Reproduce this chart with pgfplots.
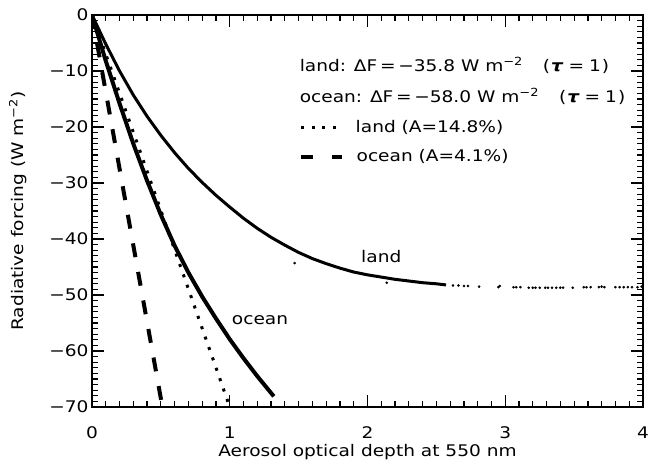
\documentclass[border=0pt]{standalone}
\usepackage{fontspec}
\setmainfont{DejaVu Sans}[FakeStretch=1.16]
\usepackage{pgfplots}
\pgfplotsset{compat=1.18}
\begin{document}
\begin{tikzpicture}[font=\fontsize{16}{19}\selectfont]
\begin{axis}[
  at={(0,0)}, anchor=south west,
  scale only axis, width=551pt, height=392pt,
  xmin=0, xmax=4, ymin=-70, ymax=0,
  xtick={0,1,2,3,4}, xticklabels={0,1,2,3,4},
  ytick={-70,-60,...,0}, yticklabels={−70,−60,−50,−40,−30,−20,−10,0},
  minor x tick num=9, minor y tick num=9,
  xtick pos=both, ytick pos=both,
  tick align=inside,
  major tick length=12pt, minor tick length=6pt,
  tick style={draw=black, line width=1.2pt},
  axis line style={line width=1.5pt},
  tick label style={font=\fontsize{16}{19}\selectfont},
  xticklabel style={yshift=-16pt},
  label style={font=\fontsize{16}{19}\selectfont},
  xlabel={Aerosol optical depth at 550 nm},
  ylabel={Radiative forcing (W m\textsuperscript{−2})},
  every axis x label/.style={at={([yshift=-45pt]axis description cs:0.5,0)}, anchor=center},
  every axis y label/.style={at={([xshift=-74pt]axis description cs:0,0.5)}, anchor=center, rotate=90},
]
% land (solid)
\addplot[black, line width=3pt, line join=round] coordinates {
(0,0) (0.1,-5.2) (0.2,-10.0) (0.3,-14.3) (0.4,-18.1) (0.5,-21.5) (0.6,-24.6)
(0.7,-27.4) (0.8,-29.9) (0.9,-32.2) (1.0,-34.3) (1.1,-36.3) (1.2,-38.1)
(1.3,-39.7) (1.4,-41.1) (1.5,-42.4) (1.6,-43.5) (1.7,-44.4) (1.8,-45.2)
(1.9,-45.9) (2.0,-46.4) (2.1,-46.8) (2.2,-47.2) (2.3,-47.5) (2.4,-47.8)
(2.5,-48.0) (2.57,-48.2)
};
\addplot[black, only marks, mark=*, mark size=1.1pt] coordinates {
(1.471,-44.3) (2.14,-47.8) (2.62,-48.3) (2.66,-48.3) (2.70,-48.4) (2.73,-48.4)
(2.81,-48.5) (2.95,-48.6) (2.96,-48.4) (3.06,-48.6) (3.08,-48.6) (3.11,-48.6)
(3.17,-48.7) (3.20,-48.7) (3.22,-48.7) (3.25,-48.7) (3.29,-48.7) (3.31,-48.7)
(3.34,-48.7) (3.37,-48.7) (3.40,-48.7) (3.42,-48.7) (3.49,-48.7) (3.57,-48.6)
(3.59,-48.6) (3.62,-48.6) (3.68,-48.6) (3.70,-48.5) (3.72,-48.6) (3.80,-48.6)
(3.83,-48.6) (3.86,-48.6) (3.89,-48.6) (3.92,-48.6) (3.96,-48.6) (3.99,-48.5)
};
% ocean (solid)
\addplot[black, line width=4pt, line join=round] coordinates {
(0,0) (0.1,-8.2) (0.2,-15.8) (0.3,-23.0) (0.4,-29.6) (0.5,-35.7) (0.6,-41.2)
(0.7,-46.0) (0.8,-50.3) (0.9,-54.2) (1.0,-57.9) (1.1,-61.3) (1.2,-64.5)
(1.3,-67.5) (1.32,-68.1)
};
% land A=14.8% (dotted)
\addplot[black, line width=3pt, line cap=butt, dash pattern=on 3pt off 8pt] coordinates {
(0,0) (0.5,-34.9) (1.0,-70)
};
% ocean A=4.1% (dashed)
\addplot[black, line width=4pt, line cap=butt, dash pattern=on 14pt off 15pt] coordinates {
(0,0) (0.25,-34.3) (0.511,-70)
};
% legend samples
\addplot[black, line width=3pt, line cap=butt, dash pattern=on 3pt off 7.5pt] coordinates {
(1.52,-20.0) (1.775,-20.0)
};
\addplot[black, line width=4pt, line cap=butt, dash pattern=on 12pt off 19pt] coordinates {
(1.52,-25.3) (1.812,-25.3)
};
\node[anchor=west, inner sep=0pt] at (axis cs:1.507,-8.95) {land: ΔF\,=\,−35.8 W m\textsuperscript{−2}\hspace{20pt}(\hspace{1pt}\textbf{\textit{τ}}\hspace{5pt}=\hspace{5pt}1\hspace{1pt})};
\node[anchor=west, inner sep=0pt] at (axis cs:1.507,-14.6) {ocean: ΔF\,=\,−58.0 W m\textsuperscript{−2}\hspace{20pt}(\hspace{1pt}\textbf{\textit{τ}}\hspace{5pt}=\hspace{5pt}1\hspace{1pt})};
\node[anchor=west, inner sep=0pt] at (axis cs:1.913,-20.0) {land (A=14.8\%)};
\node[anchor=west, inner sep=0pt] at (axis cs:1.92,-25.3) {ocean (A=4.1\%)};
\node[anchor=center] at (axis cs:2.10,-43.05) {land};
\node[anchor=center] at (axis cs:1.22,-54.4) {ocean};
\end{axis}
\pgfresetboundingbox
\useasboundingbox (-92pt,-57pt) rectangle (556pt,407pt);
\end{tikzpicture}
\end{document}
